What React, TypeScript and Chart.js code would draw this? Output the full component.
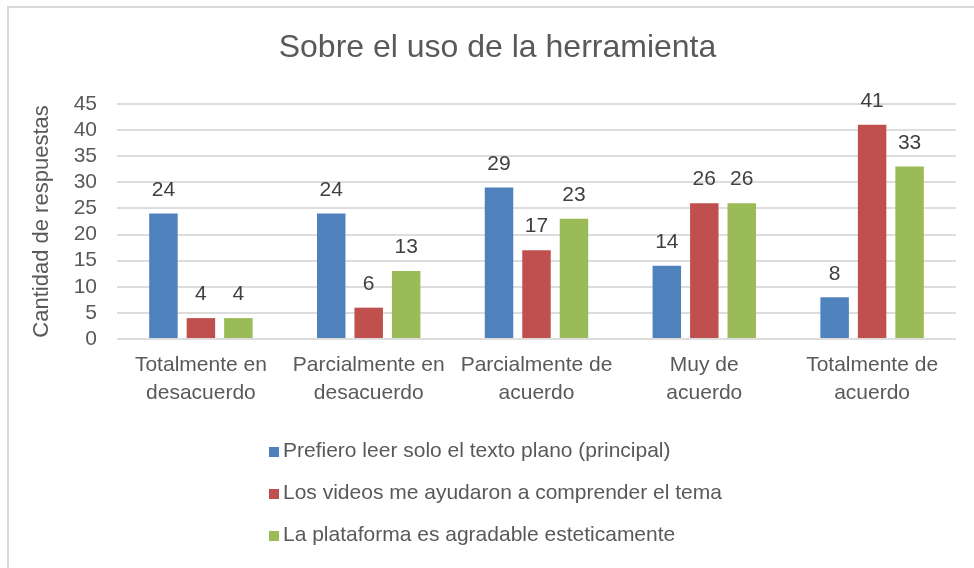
import React, { useEffect, useRef } from "react";
import { Chart, registerables } from "chart.js";

Chart.register(...registerables);

const chartTitle = "Sobre el uso de la herramienta";
const yAxisTitle = "Cantidad de respuestas";
const categories: string[][] = [
  ["Totalmente en", "desacuerdo"],
  ["Parcialmente en", "desacuerdo"],
  ["Parcialmente de", "acuerdo"],
  ["Muy de", "acuerdo"],
  ["Totalmente de", "acuerdo"],
];
const seriesNames = [
  "Prefiero leer solo el texto plano (principal)",
  "Los videos me ayudaron a comprender el tema",
  "La plataforma es agradable esteticamente",
];
const seriesPlano = [24, 24, 29, 14, 8];
const seriesVideos = [4, 6, 17, 26, 41];
const seriesPlataforma = [4, 13, 23, 26, 33];
const seriesColors = ["#4F81BD", "#C0504D", "#9BBB59"];
const yMin = 0;
const yMax = 45;
const yStep = 5;

const FONT = "'Liberation Sans', Arial, sans-serif";
const TEXT = "#595959";

const framePlugin = {
  id: "frame",
  beforeDraw(chart: any) {
    const { ctx, width, height } = chart;
    ctx.save();
    ctx.fillStyle = "#ffffff";
    ctx.fillRect(0, 0, width, height);
    ctx.fillStyle = "#D9D9D9";
    ctx.fillRect(7, 6, width - 7, 2);
    ctx.fillRect(7, 6, 2, height - 6);
    ctx.restore();
  },
};

const valueLabelPlugin = {
  id: "valueLabels",
  afterDatasetsDraw(chart: any) {
    const { ctx } = chart;
    ctx.save();
    ctx.font = `21px ${FONT}`;
    ctx.fillStyle = "#404040";
    ctx.textAlign = "center";
    ctx.textBaseline = "middle";
    chart.data.datasets.forEach((ds: any, di: number) => {
      const meta = chart.getDatasetMeta(di);
      meta.data.forEach((el: any, i: number) => {
        ctx.fillText(String(ds.data[i]), el.x, el.y - 23.5);
      });
    });
    ctx.restore();
  },
};

const legendPlugin = {
  id: "customLegend",
  afterDraw(chart: any) {
    const { ctx, chartArea } = chart;
    ctx.save();
    ctx.font = `21px ${FONT}`;
    ctx.textBaseline = "middle";
    ctx.textAlign = "left";
    const boxSize = 10;
    const gap = 4;
    const datasets = chart.data.datasets;
    let maxW = 0;
    datasets.forEach((ds: any) => {
      maxW = Math.max(maxW, boxSize + gap + ctx.measureText(ds.label).width);
    });
    const left = Math.round(chart.width / 2 - maxW / 2) - 2;
    datasets.forEach((ds: any, i: number) => {
      const cy = chartArea.bottom + 113 + i * 42;
      ctx.fillStyle = ds.backgroundColor;
      ctx.fillRect(left, cy - boxSize / 2, boxSize, boxSize);
      ctx.fillStyle = TEXT;
      ctx.fillText(ds.label, left + boxSize + gap, cy - 1);
    });
    ctx.restore();
  },
};

export default function App() {
  const canvasRef = useRef<HTMLCanvasElement | null>(null);

  useEffect(() => {
    if (!canvasRef.current) return;
    const seriesData = [seriesPlano, seriesVideos, seriesPlataforma];
    const chart = new Chart(canvasRef.current, {
      type: "bar",
      data: {
        labels: categories,
        datasets: seriesNames.map((name, i) => ({
          label: name,
          data: seriesData[i],
          backgroundColor: seriesColors[i],
          borderWidth: 0,
          barPercentage: 0.76,
          categoryPercentage: 0.67,
        })),
      },
      options: {
        responsive: false,
        animation: false,
        devicePixelRatio: 1,
        layout: { padding: { left: 39, right: 39, top: 0, bottom: 0 } },
        plugins: {
          legend: { display: false },
          tooltip: { enabled: false },
          title: {
            display: true,
            text: chartTitle,
            color: TEXT,
            font: { family: FONT, size: 32, weight: "normal", lineHeight: 1.2 },
            padding: { top: 29, bottom: 36.5 },
          },
        },
        scales: {
          x: {
            grid: { display: false, drawTicks: false },
            border: { display: false },
            ticks: {
              color: TEXT,
              font: { family: FONT, size: 21, lineHeight: 1.333 },
              padding: 12,
              maxRotation: 0,
              autoSkip: false,
            },
            afterFit(scale: any) {
              scale.height = 229;
            },
          },
          y: {
            min: yMin,
            max: yMax,
            grid: { color: "#DDDDDD", lineWidth: 2, drawTicks: false },
            border: { display: false },
            ticks: {
              stepSize: yStep,
              autoSkip: false,
              color: TEXT,
              font: { family: FONT, size: 21 },
              padding: 20,
            },
            title: {
              display: true,
              text: yAxisTitle,
              color: TEXT,
              font: { family: FONT, size: 22, lineHeight: 1.2 },
              padding: { top: -10.2, bottom: 0 },
            },
            afterFit(scale: any) {
              scale.width = 78;
            },
          },
        },
      },
      plugins: [framePlugin, valueLabelPlugin, legendPlugin],
    });
    return () => chart.destroy();
  }, []);

  return (
    <div
      style={{
        position: "absolute",
        left: 0,
        top: 0,
        width: 974,
        height: 568,
        overflow: "hidden",
        background: "#fff",
      }}
    >
      <canvas ref={canvasRef} width={995} height={568} style={{ display: "block" }} />
    </div>
  );
}
